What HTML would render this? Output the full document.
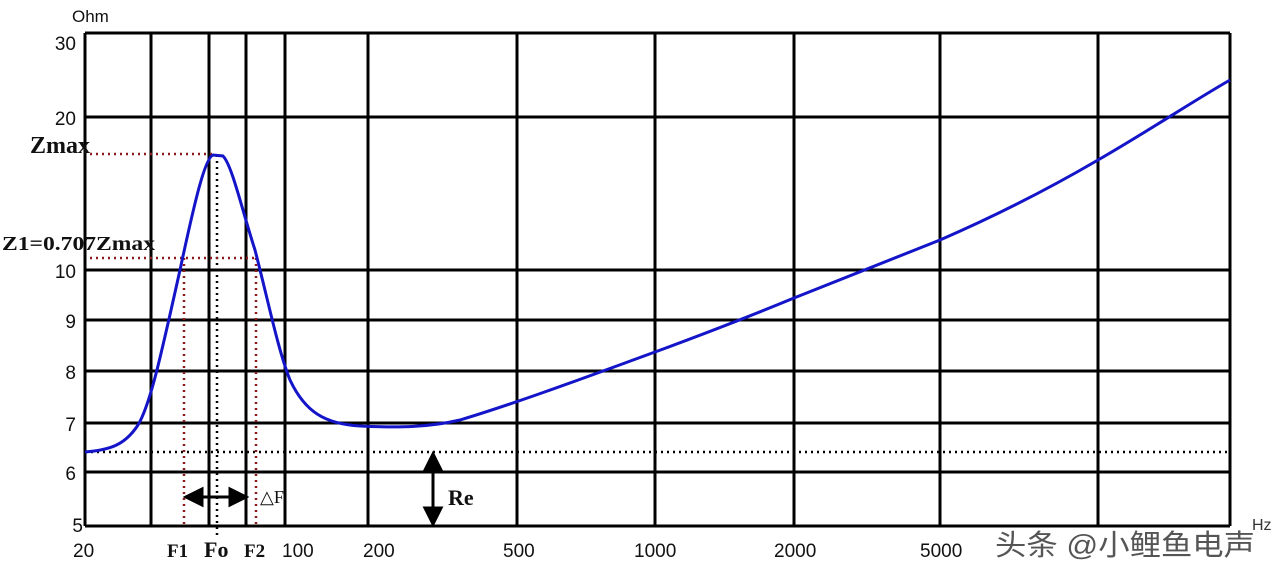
<!DOCTYPE html>
<html><head><meta charset="utf-8"><style>
body{margin:0;background:#fff;width:1280px;height:576px;overflow:hidden}
svg text{font-family:"Liberation Sans",sans-serif}
</style></head><body>
<svg width="1280" height="576" xmlns="http://www.w3.org/2000/svg">
<g stroke="#000" stroke-width="3" fill="none">
<line x1="85" y1="33" x2="1230" y2="33"/>
<line x1="85" y1="117" x2="1230" y2="117"/>
<line x1="85" y1="270" x2="1230" y2="270"/>
<line x1="85" y1="320" x2="1230" y2="320"/>
<line x1="85" y1="371" x2="1230" y2="371"/>
<line x1="85" y1="423" x2="1230" y2="423"/>
<line x1="85" y1="472" x2="1230" y2="472"/>
<line x1="85" y1="526" x2="1230" y2="526"/>
<line x1="85" y1="33" x2="85" y2="526"/>
<line x1="151" y1="33" x2="151" y2="526"/>
<line x1="209" y1="33" x2="209" y2="526"/>
<line x1="246" y1="33" x2="246" y2="526"/>
<line x1="285" y1="33" x2="285" y2="526"/>
<line x1="368" y1="33" x2="368" y2="526"/>
<line x1="517" y1="33" x2="517" y2="526"/>
<line x1="655" y1="33" x2="655" y2="526"/>
<line x1="794" y1="33" x2="794" y2="526"/>
<line x1="940" y1="33" x2="940" y2="526"/>
<line x1="1098" y1="33" x2="1098" y2="526"/>
<line x1="1230" y1="33" x2="1230" y2="526"/>
</g>
<g stroke-dasharray="2,4" stroke-width="2.5" fill="none">
<line x1="85" y1="452" x2="1230" y2="452" stroke="#000"/>
<line x1="217" y1="155" x2="217" y2="535" stroke="#000"/>
<line x1="90" y1="154" x2="215" y2="154" stroke="#8b1a1a"/>
<line x1="90" y1="258" x2="255" y2="258" stroke="#8b1a1a"/>
<line x1="184" y1="258" x2="184" y2="526" stroke="#8b1a1a"/>
<line x1="256" y1="258" x2="256" y2="526" stroke="#8b1a1a"/>
</g>
<path d="M85,452 C110,450 125,445 138,425 C150,405 160,360 180,270 C195,200 205,158 213,155 L223,156 C232,165 242,210 255,250 C268,300 278,350 290,380 C305,412 325,424 360,426 C400,428 430,427 460,420 C520,402 600,372 655,352 C720,328 760,312 794,298 C850,276 900,256 940,240 C1000,214 1050,188 1098,160 C1150,130 1190,103 1230,80" stroke="#1414c8" stroke-width="3" fill="none"/>
<g stroke="#000" stroke-width="3" fill="#000">
<line x1="195" y1="497" x2="238" y2="497"/>
<path d="M186,497 L202,489 L202,505Z"/><path d="M246,497 L230,489 L230,505Z"/>
<line x1="433" y1="462" x2="433" y2="516"/>
<path d="M433,454 L425,470 L441,470Z"/><path d="M433,524 L425,508 L441,508Z"/>
</g>
<g font-size="19" fill="#111" text-anchor="end">
<text x="76" y="50">30</text><text x="76" y="125">20</text>
<text x="76" y="278">10</text><text x="76" y="328">9</text>
<text x="76" y="379">8</text><text x="76" y="431">7</text>
<text x="76" y="480">6</text><text x="83" y="532">5</text>
</g>
<text x="72" y="22" font-size="17" fill="#111" font-family="Liberation Mono">Ohm</text>
<g font-size="19" fill="#111">
<text x="73" y="557">20</text><text x="282" y="557">100</text><text x="363" y="557">200</text>
<text x="503" y="557">500</text><text x="634" y="557">1000</text><text x="774" y="557">2000</text><text x="920" y="557">5000</text>
</g>
<g font-weight="bold" fill="#111">
<text x="30" y="153" font-size="24" style="font-family:'Liberation Serif',serif">Zmax</text>
<text x="2" y="250" font-size="20" textLength="153" lengthAdjust="spacingAndGlyphs" style="font-family:'Liberation Serif',serif">Z1=0.707Zmax</text>
<text x="167" y="557" font-size="19" style="font-family:'Liberation Serif',serif">F1</text>
<text x="204" y="557" font-size="22" style="font-family:'Liberation Serif',serif">Fo</text>
<text x="244" y="557" font-size="19" style="font-family:'Liberation Serif',serif">F2</text>
<text x="448" y="505" font-size="22" style="font-family:'Liberation Serif',serif">Re</text>
</g>
<text x="260" y="503" font-size="18" fill="#111" style="font-family:'Liberation Serif',serif">△F</text>
<text x="1252" y="530" font-size="16" fill="#333">Hz</text>
<text x="995" y="555" font-size="29" fill="#555" textLength="260" lengthAdjust="spacingAndGlyphs" style="font-family:'Liberation Sans','Noto Sans CJK SC',sans-serif">头条 @小鲤鱼电声</text>
</svg>
</body></html>
